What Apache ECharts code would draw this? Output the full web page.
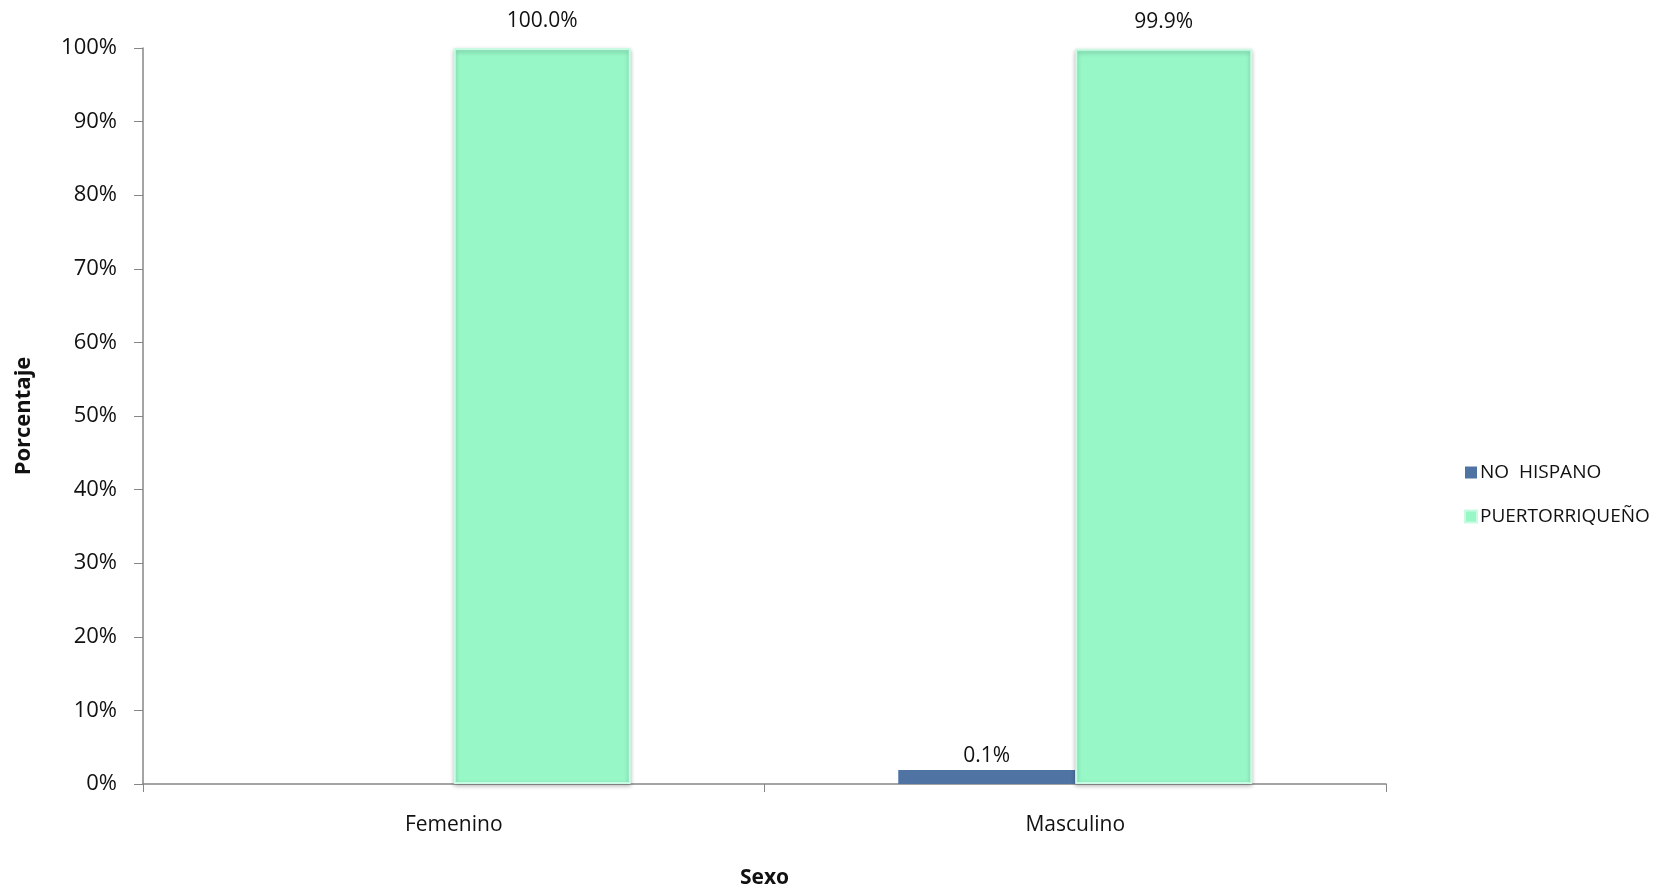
<!DOCTYPE html>
<html>
<head>
<meta charset="utf-8">
<script src="https://cdn.jsdelivr.net/npm/echarts@6/dist/echarts.min.js"></script>
<style>
html,body{margin:0;padding:0;background:#fff;}
#chart{width:1660px;height:894px;}
</style>
</head>
<body>
<div id="chart"></div>
<script>
const categories = ['Femenino', 'Masculino'];
const noHispano = [null, 0.1];
const puertorriqueno = [100.0, 99.9];
const seriesNames = ['NO  HISPANO', 'PUERTORRIQUEÑO'];

const FONT = '"Open Sans", Lato, sans-serif';
const chart = echarts.init(document.getElementById('chart'));
function labelCfg(dist) {
  return {
    show: true,
    position: 'top',
    distance: dist,
    fontFamily: FONT,
    fontSize: 21,
    color: '#111',
    formatter: p => (p.value != null && p.value > 0) ? p.value.toFixed(1) + '%' : ''
  };
}
chart.setOption({
  animation: false,
  backgroundColor: '#fff',
  grid: { left: 143, right: 274, top: 48, bottom: 107 },
  legend: {
    orient: 'vertical',
    left: 1459,
    top: 458,
    itemWidth: 12,
    itemHeight: 12,
    itemGap: 25,
    icon: 'rect',
    textStyle: { fontFamily: FONT, fontSize: 19, color: '#111', padding: [0, 0, 0, -2] },
    data: seriesNames
  },
  xAxis: {
    type: 'category',
    data: categories,
    name: 'Sexo',
    nameLocation: 'middle',
    nameGap: 84,
    nameTextStyle: { fontFamily: FONT, fontSize: 21, fontWeight: 'bold', color: '#111' },
    axisLine: { lineStyle: { color: '#868686', width: 1.5 } },
    axisTick: { show: true, length: 8, lineStyle: { color: '#868686' } },
    axisLabel: { fontFamily: FONT, fontSize: 21, color: '#111', margin: 31 }
  },
  yAxis: {
    type: 'value',
    min: 0,
    max: 100,
    interval: 10,
    name: 'Porcentaje',
    nameLocation: 'middle',
    nameRotate: 90,
    nameGap: 108,
    nameTextStyle: { fontFamily: FONT, fontSize: 22, fontWeight: 'bold', color: '#111' },
    axisLine: { show: true, lineStyle: { color: '#868686', width: 1.5 } },
    axisTick: { show: true, inside: false, length: 9, lineStyle: { color: '#868686' } },
    axisLabel: { fontFamily: FONT, fontSize: 22, color: '#111', margin: 26, formatter: '{value}%' },
    splitLine: { show: false }
  },
  series: [
    {
      name: seriesNames[0],
      type: 'bar',
      data: noHispano,
      barWidth: 177,
      barGap: '0%',
      barMinHeight: 14,
      itemStyle: { color: '#4F74A4' },
      label: labelCfg(3)
    },
    {
      name: seriesNames[1],
      type: 'bar',
      data: puertorriqueno,
      barWidth: 177,
      itemStyle: {
        color: '#97F7C7',
        borderColor: '#C9FBE4',
        borderWidth: 2,
        shadowColor: 'rgba(0,0,0,0.25)',
        shadowBlur: 4,
        shadowOffsetY: 2
      },
      label: labelCfg(16)
    }
  ]
});
</script>
</body>
</html>
